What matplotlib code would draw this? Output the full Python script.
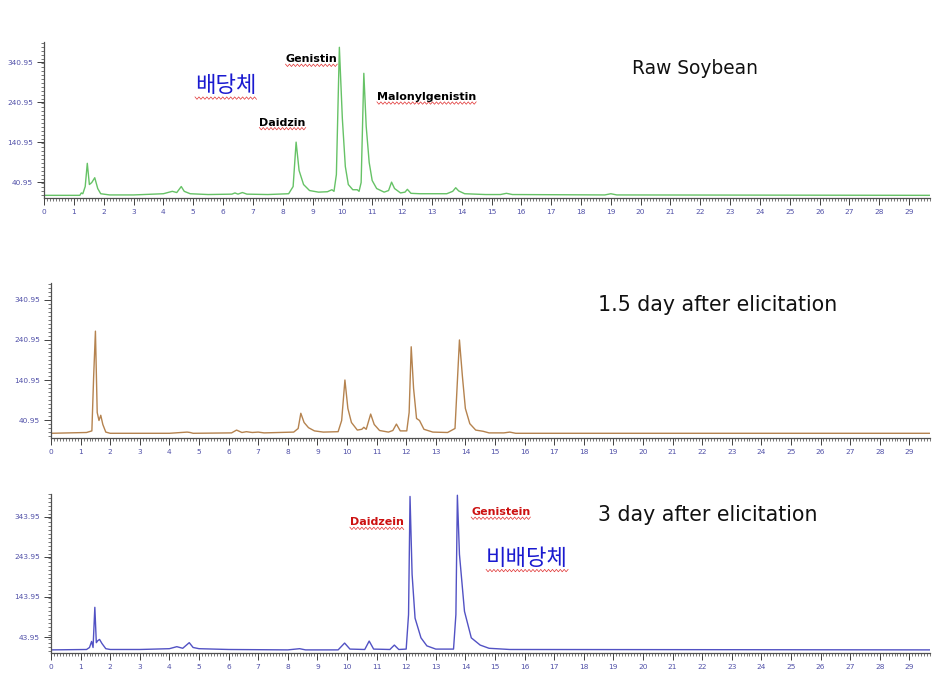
import numpy as np
import matplotlib
matplotlib.use("Agg")
import matplotlib.pyplot as plt
from matplotlib.ticker import MultipleLocator, FixedLocator

plt.rcParams['font.family'] = ['DejaVu Sans', 'Noto Sans CJK KR']

# retention time (min) / intensity
raw_t = [0, 1.2, 1.25, 1.3, 1.38, 1.45, 1.52, 1.6, 1.7, 1.8, 1.9, 2.2, 3.0, 4.0, 4.3, 4.45,
         4.6, 4.7, 4.9, 5.5, 6.3, 6.4, 6.5, 6.65, 6.8, 7.5, 8.2, 8.35, 8.45, 8.55, 8.7, 8.9,
         9.2, 9.5, 9.65, 9.72, 9.8, 9.9, 10.0, 10.1, 10.2, 10.35, 10.5, 10.56, 10.63, 10.72,
         10.8, 10.9, 11.0, 11.15, 11.4, 11.55, 11.65, 11.75, 11.95, 12.1, 12.18, 12.3, 12.6,
         13.5, 13.7, 13.8, 13.9, 14.1, 14.8, 15.3, 15.5, 15.7, 18.8, 19.0, 19.2, 29.7]
raw_y = [8, 8, 14, 12, 30, 88, 35, 40, 52, 25, 12, 9, 9, 12, 18, 15,
         30, 18, 12, 10, 11, 14, 11, 15, 11, 10, 12, 30, 141, 70, 35, 20,
         16, 17, 22, 18, 60, 378, 200, 80, 35, 22, 22, 18, 40, 313,
         180, 90, 45, 25, 16, 20, 41, 25, 14, 16, 23, 13, 12,
         12, 18, 27, 19, 12, 10, 10, 13, 10, 9, 12, 9, 8]

d15_t = [0, 1.2, 1.38, 1.44, 1.5, 1.56, 1.62, 1.68, 1.75, 1.85, 2.0, 4.0, 4.6, 4.7, 4.8,
         6.1, 6.27, 6.45, 6.6, 6.8, 7.0, 7.2, 8.2, 8.35, 8.44, 8.55, 8.7, 8.9, 9.2, 9.7,
         9.82, 9.93, 10.03, 10.15, 10.35, 10.5, 10.57, 10.65, 10.8, 10.92, 11.1, 11.4, 11.55,
         11.67, 11.8, 12.02, 12.1, 12.17, 12.25, 12.35, 12.45, 12.6, 12.9, 13.4, 13.65, 13.8,
         13.9, 14.0, 14.15, 14.35, 14.6, 14.8, 15.3, 15.5, 15.7, 29.7]
d15_y = [8, 10, 14, 150, 263, 60, 40, 53, 30, 11, 8, 8, 11, 10, 8,
         9, 16, 10, 12, 10, 11, 9, 11, 20, 58, 35, 22, 14, 11, 12,
         40, 141, 70, 35, 16, 18, 23, 18, 56, 30, 15, 11, 15,
         31, 14, 14, 60, 224, 120, 45, 40, 18, 11, 10, 20, 241,
         150, 70, 32, 16, 13, 9, 9, 11, 8, 8]

d3_t = [0, 1.2, 1.3, 1.37, 1.42, 1.48, 1.53, 1.58, 1.64, 1.72, 1.85, 2.0, 3.0, 4.0, 4.25,
        4.45, 4.67, 4.8, 5.0, 6.0, 8.0, 8.4, 8.6, 9.7, 9.92, 10.1, 10.6, 10.75, 10.9,
        11.45, 11.6, 11.75, 12.0, 12.08, 12.13, 12.2, 12.3, 12.5, 12.7, 13.0, 13.6, 13.68,
        13.73, 13.8, 13.97, 14.2, 14.5, 14.8, 15.5, 29.7]
d3_y = [12, 13, 18, 33, 18, 118, 30, 35, 38, 28, 15, 13, 13, 15, 20,
        16, 30, 18, 15, 13, 12, 15, 12, 12, 29, 14, 13, 34, 14,
        13, 24, 13, 14, 100, 394, 200, 91, 42, 22, 14, 14, 100,
        397, 250, 108, 42, 24, 16, 13, 12]

x_ticks = list(range(0, 30))

panels = [
    dict(t=raw_t, y=raw_y, color='#66c266', rect=[0.0472, 0.706, 0.9496, 0.2315],
         ylim=(0.95, 390.95), yticks=[40.95, 140.95, 240.95, 340.95],
         title='Raw Soybean', title_xy=(0.677, 0.898), title_fs=13.4),
    dict(t=d15_t, y=d15_y, color='#b5834f', rect=[0.0547, 0.350, 0.9421, 0.230],
         ylim=(-4, 383), yticks=[40.95, 140.95, 240.95, 340.95],
         title='1.5 day after elicitation', title_xy=(0.641, 0.547), title_fs=14.8),
    dict(t=d3_t, y=d3_y, color='#5252c4', rect=[0.0547, 0.031, 0.9421, 0.236],
         ylim=(4, 400), yticks=[43.95, 143.95, 243.95, 343.95],
         title='3 day after elicitation', title_xy=(0.641, 0.236), title_fs=14.8),
]

fig = plt.figure(figsize=(9.33, 6.74), dpi=100)

for p in panels:
    ax = fig.add_axes(p['rect'])
    ax.plot(p['t'], p['y'], color=p['color'], lw=1.0)
    ax.set_xlim(0, 29.7)
    ax.set_ylim(*p['ylim'])
    ax.spines['top'].set_visible(False)
    ax.spines['right'].set_visible(False)
    for s in ('left', 'bottom'):
        ax.spines[s].set_color('#505050')
        ax.spines[s].set_linewidth(0.9)
    ax.xaxis.set_major_locator(FixedLocator(x_ticks))
    ax.xaxis.set_minor_locator(MultipleLocator(0.1))
    ax.set_xticklabels([str(v) for v in x_ticks])
    ax.yaxis.set_major_locator(FixedLocator(p['yticks']))
    ax.yaxis.set_minor_locator(MultipleLocator(10))
    ax.set_yticklabels(['%.2f' % v for v in p['yticks']])
    ax.tick_params(axis='both', which='major', length=5, width=0.7, color='#404040',
                   labelsize=5.3, labelcolor='#5050a8', pad=3)
    ax.tick_params(axis='both', which='minor', length=2.5, width=0.5, color='#404040')
    fig.text(p['title_xy'][0], p['title_xy'][1], p['title'], fontsize=p['title_fs'],
             color='#111111', va='center', ha='left')

labels = [
    ('Genistin', 0.306, 0.912, '#000000', 8, 'bold', None),
    ('Daidzin', 0.278, 0.818, '#000000', 8, 'bold', None),
    ('Malonylgenistin', 0.404, 0.856, '#000000', 8, 'bold', None),
    ('Daidzein', 0.375, 0.225, '#cc1111', 8, 'bold', None),
    ('Genistein', 0.505, 0.240, '#cc1111', 8, 'bold', None),
    ('배당체', 0.209, 0.873, '#1a1ad0', 16, 'medium', ['Noto Sans CJK KR', 'DejaVu Sans']),
    ('비배당체', 0.521, 0.172, '#1a1ad0', 16, 'medium', ['Noto Sans CJK KR', 'DejaVu Sans']),
]
texts = []
for txt, x, y, c, fs, fw, fam in labels:
    kw = {} if fam is None else {'family': fam}
    texts.append(fig.text(x, y, txt, fontsize=fs, fontweight=fw, color=c,
                          va='center', ha='left', **kw))

# 맞춤법 검사 빨간 물결 밑줄
fig.canvas.draw()
renderer = fig.canvas.get_renderer()
for t in texts:
    bb = t.get_window_extent(renderer)
    n = int(bb.width / 2) + 2
    xs = np.linspace(bb.x0, bb.x1, n)
    ys = bb.y0 - 1.0 + np.where(np.arange(n) % 2 == 0, 1.2, -1.2)
    fig.add_artist(plt.Line2D(xs / fig.bbox.width, ys / fig.bbox.height, color='#e03030',
                              lw=0.5, transform=fig.transFigure))

fig.savefig('out.png', dpi=100, facecolor='white')
